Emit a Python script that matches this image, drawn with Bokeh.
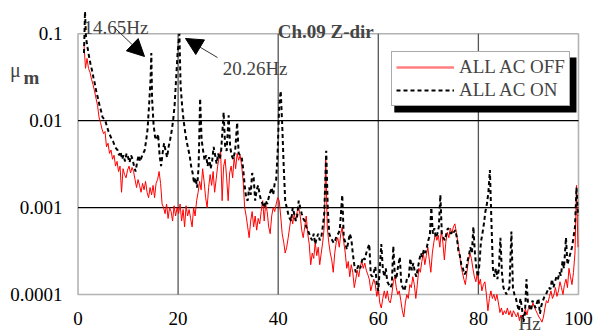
from bokeh.plotting import figure
from bokeh.models import (FixedTicker, BoxAnnotation, Label, Arrow, NormalHead,
                          Legend, LegendItem, ColumnDataSource)
from bokeh.embed import file_html
from bokeh.resources import INLINE

# ---------------- data ----------------
x_ticks = [0, 20, 40, 60, 80, 100]
x_tick_labels = ["0", "20", "40", "60", "80", "100"]
y_ticks = [0.0001, 0.001, 0.01, 0.1]
y_tick_labels = ["0.0001", "0.001", "0.01", "0.1"]

series_names = ["ALL AC OFF", "ALL AC ON"]

off_freq = [
    1.2, 1.5, 1.8, 2.1, 2.4, 2.7, 3.0, 3.3, 3.6, 3.9,
    4.2, 4.5, 4.8, 5.1, 5.4, 5.7, 6.0, 6.3, 6.6, 6.9,
    7.2, 7.5, 7.8, 8.1, 8.4, 8.7, 9.0, 9.3, 9.6, 9.9,
    10.2, 10.5, 10.8, 11.1, 11.4, 11.7, 12.0, 12.3, 12.6, 12.9,
    13.2, 13.5, 13.8, 14.1, 14.4, 14.7, 15.0, 15.3, 15.6, 15.9,
    16.2, 16.5, 16.8, 17.1, 17.4, 17.7, 18.0, 18.3, 18.6, 18.9,
    19.2, 19.5, 19.8, 20.1, 20.4, 20.7, 21.0, 21.3, 21.6, 21.9,
    22.2, 22.5, 22.8, 23.1, 23.4, 23.7, 24.0, 24.3, 24.6, 24.9,
    25.2, 25.5, 25.8, 26.1, 26.4, 26.7, 27.0, 27.3, 27.6, 27.9,
    28.2, 28.5, 28.8, 29.1, 29.4, 29.7, 30.0, 30.3, 30.6, 30.9,
    31.2, 31.5, 31.8, 32.1, 32.4, 32.7, 33.0, 33.3, 33.6, 33.9,
    34.2, 34.5, 34.8, 35.1, 35.4, 35.7, 36.0, 36.3, 36.6, 36.9,
    37.2, 37.5, 37.8, 38.1, 38.4, 38.7, 39.0, 39.3, 39.6, 39.9,
    40.2, 40.5, 40.8, 41.1, 41.4, 41.7, 42.0, 42.3, 42.6, 42.9,
    43.2, 43.5, 43.8, 44.1, 44.4, 44.7, 45.0, 45.3, 45.6, 45.9,
    46.2, 46.5, 46.8, 47.1, 47.4, 47.7, 48.0, 48.3, 48.6, 48.9,
    49.2, 49.5, 49.8, 50.1, 50.4, 50.7, 51.0, 51.3, 51.6, 51.9,
    52.2, 52.5, 52.8, 53.1, 53.4, 53.7, 54.0, 54.3, 54.6, 54.9,
    55.2, 55.5, 55.8, 56.1, 56.4, 56.7, 57.0, 57.3, 57.6, 57.9,
    58.2, 58.5, 58.8, 59.1, 59.4, 59.7, 60.0, 60.3, 60.6, 60.9,
    61.2, 61.5, 61.8, 62.1, 62.4, 62.7, 63.0, 63.3, 63.6, 63.9,
    64.2, 64.5, 64.8, 65.1, 65.4, 65.7, 66.0, 66.3, 66.6, 66.9,
    67.2, 67.5, 67.8, 68.1, 68.4, 68.7, 69.0, 69.3, 69.6, 69.9,
    70.2, 70.5, 70.8, 71.1, 71.4, 71.7, 72.0, 72.3, 72.6, 72.9,
    73.2, 73.5, 73.8, 74.1, 74.4, 74.7, 75.0, 75.3, 75.6, 75.9,
    76.2, 76.5, 76.8, 77.1, 77.4, 77.7, 78.0, 78.3, 78.6, 78.9,
    79.2, 79.5, 79.8, 80.1, 80.4, 80.7, 81.0, 81.3, 81.6, 81.9,
    82.2, 82.5, 82.8, 83.1, 83.4, 83.7, 84.0, 84.3, 84.6, 84.9,
    85.2, 85.5, 85.8, 86.1, 86.4, 86.7, 87.0, 87.3, 87.6, 87.9,
    88.2, 88.5, 88.8, 89.1, 89.4, 89.7, 90.0, 90.3, 90.6, 90.9,
    91.2, 91.5, 91.8, 92.1, 92.4, 92.7, 93.0, 93.3, 93.6, 93.9,
    94.2, 94.5, 94.8, 95.1, 95.4, 95.7, 96.0, 96.3, 96.6, 96.9,
    97.2, 97.5, 97.8, 98.1, 98.4, 98.7, 99.0, 99.3, 99.6, 99.9,
]
off_amp = [
    0.075, 0.040, 0.052, 0.040, 0.036, 0.030, 0.026, 0.022, 0.018, 0.015,
    0.011, 0.0095, 0.0080, 0.0071, 0.0075, 0.0050, 0.0055, 0.0042, 0.0046, 0.0036,
    0.0040, 0.0030, 0.0034, 0.0026, 0.0030, 0.0015, 0.0028, 0.0024, 0.0022, 0.0027,
    0.0030, 0.0025, 0.0029, 0.0026, 0.0021, 0.0017, 0.0021, 0.0018, 0.0015, 0.0019,
    0.0016, 0.0020, 0.0015, 0.0013, 0.0017, 0.0014, 0.0018, 0.0013, 0.0019, 0.0021,
    0.0026, 0.0019, 0.0011, 0.0010, 0.00085, 0.0011, 0.00075, 0.00100, 0.00090, 0.00070,
    0.00105, 0.00080, 0.00100, 0.00085, 0.00110, 0.00070, 0.00095, 0.00060, 0.00105, 0.00080,
    0.00095, 0.00075, 0.00060, 0.00100, 0.00080, 0.00120, 0.00150, 0.00200, 0.00160, 0.00280,
    0.00200, 0.00130, 0.00100, 0.00170, 0.00240, 0.00180, 0.00260, 0.00150, 0.00210, 0.00300,
    0.00380, 0.00450, 0.00120, 0.00300, 0.00360, 0.00220, 0.00120, 0.00250, 0.00300, 0.00220,
    0.00380, 0.00280, 0.00420, 0.00350, 0.00400, 0.00300, 0.00200, 0.00100, 0.00080, 0.00060,
    0.00045, 0.00070, 0.00090, 0.00060, 0.00080, 0.00055, 0.00075, 0.00065, 0.00090, 0.00120,
    0.00070, 0.00110, 0.00090, 0.00060, 0.00050, 0.00080, 0.00100, 0.00090, 0.00110, 0.00130,
    0.00120, 0.00080, 0.00050, 0.00040, 0.00030, 0.00035, 0.00045, 0.00060, 0.00080, 0.00065,
    0.00085, 0.00070, 0.00090, 0.00100, 0.00080, 0.00055, 0.00045, 0.00060, 0.00080, 0.00050,
    0.00038, 0.00022, 0.00030, 0.00026, 0.00040, 0.00028, 0.00035, 0.00022, 0.00030, 0.00040,
    0.00060, 0.00370, 0.00060, 0.00040, 0.00030, 0.00025, 0.00018, 0.00030, 0.00040, 0.00045,
    0.00035, 0.00050, 0.00060, 0.00040, 0.00030, 0.00020, 0.00024, 0.00016, 0.00022, 0.00018,
    0.00012, 0.00015, 0.00019, 0.00016, 0.00021, 0.00024, 0.00020, 0.00023, 0.00019, 0.00017,
    0.00015, 0.00011, 0.00013, 0.00015, 0.00013, 0.000095, 0.00012, 0.000080, 0.000070, 0.000090,
    0.00011, 0.000090, 0.00011, 0.000085, 0.000080, 0.00010, 0.00014, 0.00016, 0.00012, 0.00010,
    0.00011, 0.000085, 0.000065, 0.000055, 0.000080, 0.00010, 0.000090, 0.00013, 0.00012, 0.00016,
    0.00013, 0.000090, 0.00013, 0.00020, 0.00018, 0.00024, 0.00030, 0.00022, 0.00028, 0.00035,
    0.00025, 0.00018, 0.00030, 0.00040, 0.00050, 0.00042, 0.00048, 0.00035, 0.00055, 0.00040,
    0.00025, 0.00040, 0.00052, 0.00045, 0.00058, 0.00050, 0.00060, 0.00065, 0.00052, 0.00040,
    0.00030, 0.00022, 0.00018, 0.00015, 0.00013, 0.00018, 0.00024, 0.00030, 0.00026, 0.00020,
    0.00016, 0.00014, 0.00018, 0.00013, 0.00015, 0.00011, 0.00013, 0.00014, 0.00010, 0.000065,
    0.000090, 0.00011, 0.000090, 0.00010, 0.000085, 0.00010, 0.000080, 0.000062, 0.000070, 0.000058,
    0.000065, 0.000060, 0.000070, 0.000058, 0.000065, 0.000055, 0.000065, 0.000060, 0.000055, 0.000062,
    0.000050, 0.000058, 0.000052, 0.000060, 0.000068, 0.000058, 0.000070, 0.000075, 0.000068, 0.000080,
    0.000072, 0.000065, 0.000060, 0.000055, 0.000052, 0.000048, 0.000055, 0.000070, 0.000085, 0.000080,
    0.000095, 0.00011, 0.000090, 0.00010, 0.00012, 0.000095, 0.00011, 0.00014, 0.00012, 0.00010,
    0.00013, 0.00015, 0.00012, 0.00020, 0.00016, 0.00013, 0.00018, 0.00030, 0.00180, 0.00035,
]

on_freq = [
    1.2, 1.4, 1.6, 1.9, 2.2, 2.5, 2.8, 3.1, 3.4, 3.7,
    4.0, 4.3, 4.6, 4.9, 5.2, 5.5, 5.8, 6.1, 6.4, 6.7,
    7.0, 7.3, 7.6, 7.9, 8.2, 8.5, 8.8, 9.1, 9.4, 9.7,
    10.0, 10.3, 10.6, 10.9, 11.2, 11.5, 11.8, 12.1, 12.4, 12.7,
    13.0, 13.3, 13.6, 13.9, 14.2, 14.5, 14.65, 14.8, 15.1, 15.4,
    15.7, 16.0, 16.3, 16.6, 16.9, 17.2, 17.5, 17.8, 18.1, 18.4,
    18.7, 19.0, 19.3, 19.6, 19.9, 20.26, 20.5, 20.8, 21.1, 21.4,
    21.7, 22.0, 22.3, 22.6, 22.9, 23.2, 23.5, 23.8, 24.1, 24.4,
    24.7, 25.0, 25.3, 25.6, 25.9, 26.2, 26.5, 26.8, 27.1, 27.4,
    27.7, 28.0, 28.3, 28.6, 29.1, 29.4, 29.7, 30.1, 30.4, 30.7,
    31.0, 31.4, 31.8, 32.1, 32.4, 32.7, 33.0, 33.3, 33.6, 33.9,
    34.2, 34.5, 34.8, 35.1, 35.4, 35.7, 36.0, 36.3, 36.6, 36.9,
    37.2, 37.5, 37.8, 38.1, 38.4, 38.7, 39.0, 39.3, 39.6, 39.9,
    40.2, 40.5, 40.8, 41.1, 41.4, 41.7, 42.0, 42.3, 42.6, 42.9,
    43.2, 43.5, 43.8, 44.1, 44.4, 44.7, 45.0, 45.3, 45.6, 45.9,
    46.2, 46.5, 46.8, 47.1, 47.4, 47.7, 48.0, 48.3, 48.6, 48.9,
    49.2, 49.6, 49.9, 50.2, 50.5, 50.8, 51.1, 51.4, 51.7, 52.0,
    52.3, 52.8, 53.1, 53.4, 53.7, 54.0, 54.3, 54.6, 54.9, 55.2,
    55.5, 55.8, 56.1, 56.4, 56.7, 57.0, 57.3, 57.6, 57.9, 58.2,
    58.5, 58.8, 59.1, 59.4, 59.7, 60.0, 60.3, 60.6, 60.9, 61.2,
    61.5, 61.8, 62.1, 62.4, 62.7, 63.0, 63.3, 63.6, 63.9, 64.3,
    64.6, 64.9, 65.2, 65.5, 65.8, 66.1, 66.4, 66.7, 67.0, 67.3,
    67.6, 67.9, 68.2, 68.5, 68.8, 69.1, 69.4, 69.7, 70.0, 70.3,
    70.6, 70.9, 71.2, 71.5, 71.8, 72.1, 72.4, 72.7, 73.0, 73.3,
    73.6, 73.9, 74.2, 74.5, 74.8, 75.1, 75.4, 75.7, 76.0, 76.3,
    76.6, 76.9, 77.2, 77.5, 77.8, 78.1, 78.4, 78.7, 79.0, 79.3,
    79.6, 79.9, 80.2, 80.5, 80.8, 81.1, 81.4, 81.7, 82.0, 82.3,
    82.6, 82.9, 83.2, 83.5, 83.8, 84.1, 84.4, 84.7, 85.0, 85.3,
    85.6, 85.9, 86.2, 86.6, 86.9, 87.2, 87.5, 87.8, 88.1, 88.4,
    88.7, 89.0, 89.3, 89.6, 89.9, 90.2, 90.5, 90.8, 91.1, 91.4,
    91.7, 92.0, 92.3, 92.6, 92.9, 93.2, 93.5, 93.8, 94.1, 94.4,
    94.7, 95.0, 95.3, 95.6, 95.9, 96.2, 96.5, 96.8, 97.1, 97.5,
    97.8, 98.1, 98.4, 98.7, 99.0, 99.3, 99.6, 99.9,
]
on_amp = [
    0.060, 0.180, 0.090, 0.070, 0.055, 0.045, 0.038, 0.031, 0.026, 0.021,
    0.018, 0.015, 0.013, 0.011, 0.0105, 0.0098, 0.0085, 0.0075, 0.0068, 0.0062,
    0.0058, 0.0052, 0.0048, 0.0046, 0.0040, 0.0044, 0.0036, 0.0040, 0.0034, 0.0042,
    0.0038, 0.0033, 0.0040, 0.0036, 0.0030, 0.0026, 0.0033, 0.0040, 0.0034, 0.0038,
    0.0042, 0.0045, 0.0058, 0.0080, 0.0150, 0.0300, 0.0600, 0.0180, 0.0090, 0.0065,
    0.0060, 0.0070, 0.0040, 0.0030, 0.0042, 0.0055, 0.0045, 0.0038, 0.0050, 0.0060,
    0.0075, 0.0100, 0.0150, 0.0300, 0.0600, 0.1000, 0.0250, 0.0150, 0.0100, 0.0075,
    0.0058, 0.0048, 0.0040, 0.0030, 0.0025, 0.0019, 0.0022, 0.0017, 0.0030, 0.0180,
    0.0060, 0.0045, 0.0035, 0.0040, 0.0030, 0.0038, 0.0028, 0.0034, 0.0050, 0.0040,
    0.0032, 0.0042, 0.0036, 0.0045, 0.0125, 0.0050, 0.0045, 0.0115, 0.0050, 0.0040,
    0.0036, 0.0045, 0.0095, 0.0042, 0.0040, 0.0038, 0.0028, 0.0018, 0.0013, 0.0012,
    0.0017, 0.0014, 0.0025, 0.0022, 0.0012, 0.0016, 0.0018, 0.0014, 0.0012, 0.0011,
    0.0010, 0.0012, 0.0011, 0.0013, 0.0015, 0.0017, 0.0014, 0.0019, 0.0021, 0.0045,
    0.0150, 0.0220, 0.0090, 0.0030, 0.0012, 0.0010, 0.00085, 0.00075, 0.00070, 0.00100,
    0.00085, 0.00070, 0.00080, 0.00120, 0.00100, 0.00085, 0.00075, 0.00070, 0.00060, 0.00055,
    0.00050, 0.00045, 0.00042, 0.00050, 0.00038, 0.00045, 0.00050, 0.00042, 0.00045, 0.00060,
    0.00085, 0.00450, 0.00100, 0.00050, 0.00045, 0.00042, 0.00039, 0.00042, 0.00048, 0.00050,
    0.00055, 0.00140, 0.00045, 0.00040, 0.00033, 0.00040, 0.00050, 0.00044, 0.00030, 0.00022,
    0.00018, 0.00020, 0.00022, 0.00020, 0.00024, 0.00027, 0.00025, 0.00030, 0.00034, 0.00038,
    0.00017, 0.00016, 0.00018, 0.00021, 0.00013, 0.00011, 0.00020, 0.00038, 0.00020, 0.00016,
    0.00020, 0.00014, 0.00013, 0.00012, 0.00013, 0.00036, 0.00017, 0.00015, 0.00020, 0.00027,
    0.00013, 0.00012, 0.00011, 0.00013, 0.00016, 0.00016, 0.00026, 0.00019, 0.00023, 0.00018,
    0.00016, 0.00020, 0.00025, 0.00030, 0.00027, 0.00033, 0.00030, 0.00035, 0.00042, 0.00048,
    0.00100, 0.00050, 0.00058, 0.00045, 0.00050, 0.00060, 0.00140, 0.00050, 0.00045, 0.00042,
    0.00050, 0.00058, 0.00055, 0.00050, 0.00055, 0.00052, 0.00055, 0.00045, 0.00032, 0.00028,
    0.00022, 0.00020, 0.00017, 0.00018, 0.00024, 0.00028, 0.00035, 0.00030, 0.00060, 0.00030,
    0.00020, 0.00016, 0.00022, 0.00040, 0.00050, 0.00065, 0.00090, 0.00110, 0.00150, 0.00270,
    0.00070, 0.00020, 0.00016, 0.00020, 0.00015, 0.00020, 0.00045, 0.00018, 0.00012, 0.00011,
    0.00010, 0.00011, 0.00012, 0.00053, 0.00012, 0.000100, 0.000090, 0.000075, 0.000065, 0.000090,
    0.000070, 0.000048, 0.000060, 0.000150, 0.000080, 0.000072, 0.000065, 0.000085, 0.000078, 0.000070,
    0.000080, 0.000090, 0.000060, 0.000075, 0.000085, 0.000095, 0.000100, 0.000110, 0.000120, 0.000115,
    0.000150, 0.000120, 0.000140, 0.000160, 0.000150, 0.000180, 0.000165, 0.000240, 0.000200, 0.000450,
    0.000220, 0.000260, 0.000300, 0.000350, 0.000450, 0.000600, 0.001700, 0.000800,
]

# ---------------- figure ----------------
FONT = "Liberation Serif"

# the plotting frame spans the whole picture; the axes carry only their labels
p = figure(frame_width=594, frame_height=333,
           x_range=(-15.485, 103.2), y_range=(3.556e-5, 0.2416),
           y_axis_type="log", output_backend="svg", toolbar_location=None,
           min_border=0)
p.outline_line_color = None
p.xgrid.visible = False
p.ygrid.visible = False
p.background_fill_color = "white"
p.border_fill_color = "white"

p.xaxis.ticker = FixedTicker(ticks=x_ticks, minor_ticks=[])
p.xaxis.major_label_overrides = {float(t): s for t, s in zip(x_ticks, x_tick_labels)}
p.yaxis.ticker = FixedTicker(ticks=y_ticks, minor_ticks=[])
p.yaxis.major_label_overrides = {t: s for t, s in zip(y_ticks, y_tick_labels)}
for ax in (p.xaxis[0], p.yaxis[0]):
    ax.axis_line_color = None
    ax.major_tick_line_color = None
    ax.minor_tick_line_color = None
    ax.major_tick_out = 0
    ax.major_tick_in = 0
    ax.minor_tick_out = 0
    ax.major_label_text_font = FONT
    ax.major_label_text_font_size = "19px"
    ax.major_label_text_color = "black"
p.yaxis.major_label_standoff = -62
p.xaxis.major_label_standoff = -22

# grid lines inside the plot box
grid_x = x_ticks[1:-1]
grid_y = y_ticks[1:-1]
p.segment(x0=grid_x, y0=[y_ticks[0]] * len(grid_x), x1=grid_x, y1=[y_ticks[-1]] * len(grid_x),
          line_color="#555555", line_width=1.3)
p.segment(x0=[x_ticks[0]] * len(grid_y), y0=grid_y, x1=[x_ticks[-1]] * len(grid_y), y1=grid_y,
          line_color="black", line_width=1.2)
box = BoxAnnotation(left=x_ticks[0], right=x_ticks[-1], bottom=y_ticks[0], top=y_ticks[-1],
                    fill_color=None, line_color="black", line_width=1.6, level="underlay")
p.add_layout(box)

src_off = ColumnDataSource(dict(f=off_freq, a=off_amp))
src_on = ColumnDataSource(dict(f=on_freq, a=on_amp))
r_off = p.line("f", "a", source=src_off, line_color="#ff0000", line_width=1)
r_on = p.line("f", "a", source=src_on, line_color="black", line_width=2, line_dash="4 3")
# legend key for the red series (drawn lighter and thicker in the legend);
# a one-point line draws nothing in the plot itself
r_off_key = p.line(x=off_freq[:1], y=off_amp[:1], line_color="#ff7f7f", line_width=2.5)

# legend with shadow
shadow = BoxAnnotation(left=63.2, right=99.6, top=0.0533, bottom=0.0124,
                       fill_color="black", fill_alpha=1, line_color=None)
p.add_layout(shadow)
legend = Legend(items=[LegendItem(label=series_names[0], renderers=[r_off_key]),
                       LegendItem(label=series_names[1], renderers=[r_on])],
                location=(391, 227), orientation="vertical",
                label_text_font=FONT, label_text_font_size="19px",
                glyph_width=58, glyph_height=20, label_height=20,
                label_standoff=5, padding=4, spacing=1, margin=0,
                border_line_color="#555555", border_line_width=1.5,
                background_fill_color="white", background_fill_alpha=1)
p.add_layout(legend)

# annotations
p.add_layout(Label(x=49.5, y=0.1063, text="Ch.09 Z-dir", text_align="center",
                   text_font=FONT, text_font_size="19px", text_font_style="bold",
                   text_baseline="alphabetic"))
p.add_layout(Label(x=1.1, y=0.118, text="14.65Hz", text_font=FONT,
                   text_font_size="19px", text_baseline="alphabetic"))
p.add_layout(Label(x=28.9, y=0.0399, text="20.26Hz", text_font=FONT,
                   text_font_size="19px", text_baseline="alphabetic"))
p.add_layout(Arrow(end=NormalHead(size=17, fill_color="black", line_color="black"),
                   x_start=7.49, y_start=0.115, x_end=13.29, y_end=0.0548,
                   line_color="#333333", line_width=1))
p.add_layout(Arrow(end=NormalHead(size=17, fill_color="black", line_color="black"),
                   x_start=27.87, y_start=0.0533, x_end=21.48, y_end=0.0883,
                   line_color="#333333", line_width=1))
p.add_layout(Label(x=-13.6, y=0.0385, text="μ", text_font=FONT,
                   text_font_size="20px", text_baseline="alphabetic"))
p.add_layout(Label(x=-10.9, y=0.0314, text="m", text_font=FONT,
                   text_font_size="19px", text_font_style="bold", text_baseline="alphabetic"))
p.add_layout(Label(x=88.0, y=4.63e-5, text="Hz", text_font=FONT,
                   text_font_size="19px", text_baseline="alphabetic"))

open("out.html", "w").write(file_html(p, INLINE))
